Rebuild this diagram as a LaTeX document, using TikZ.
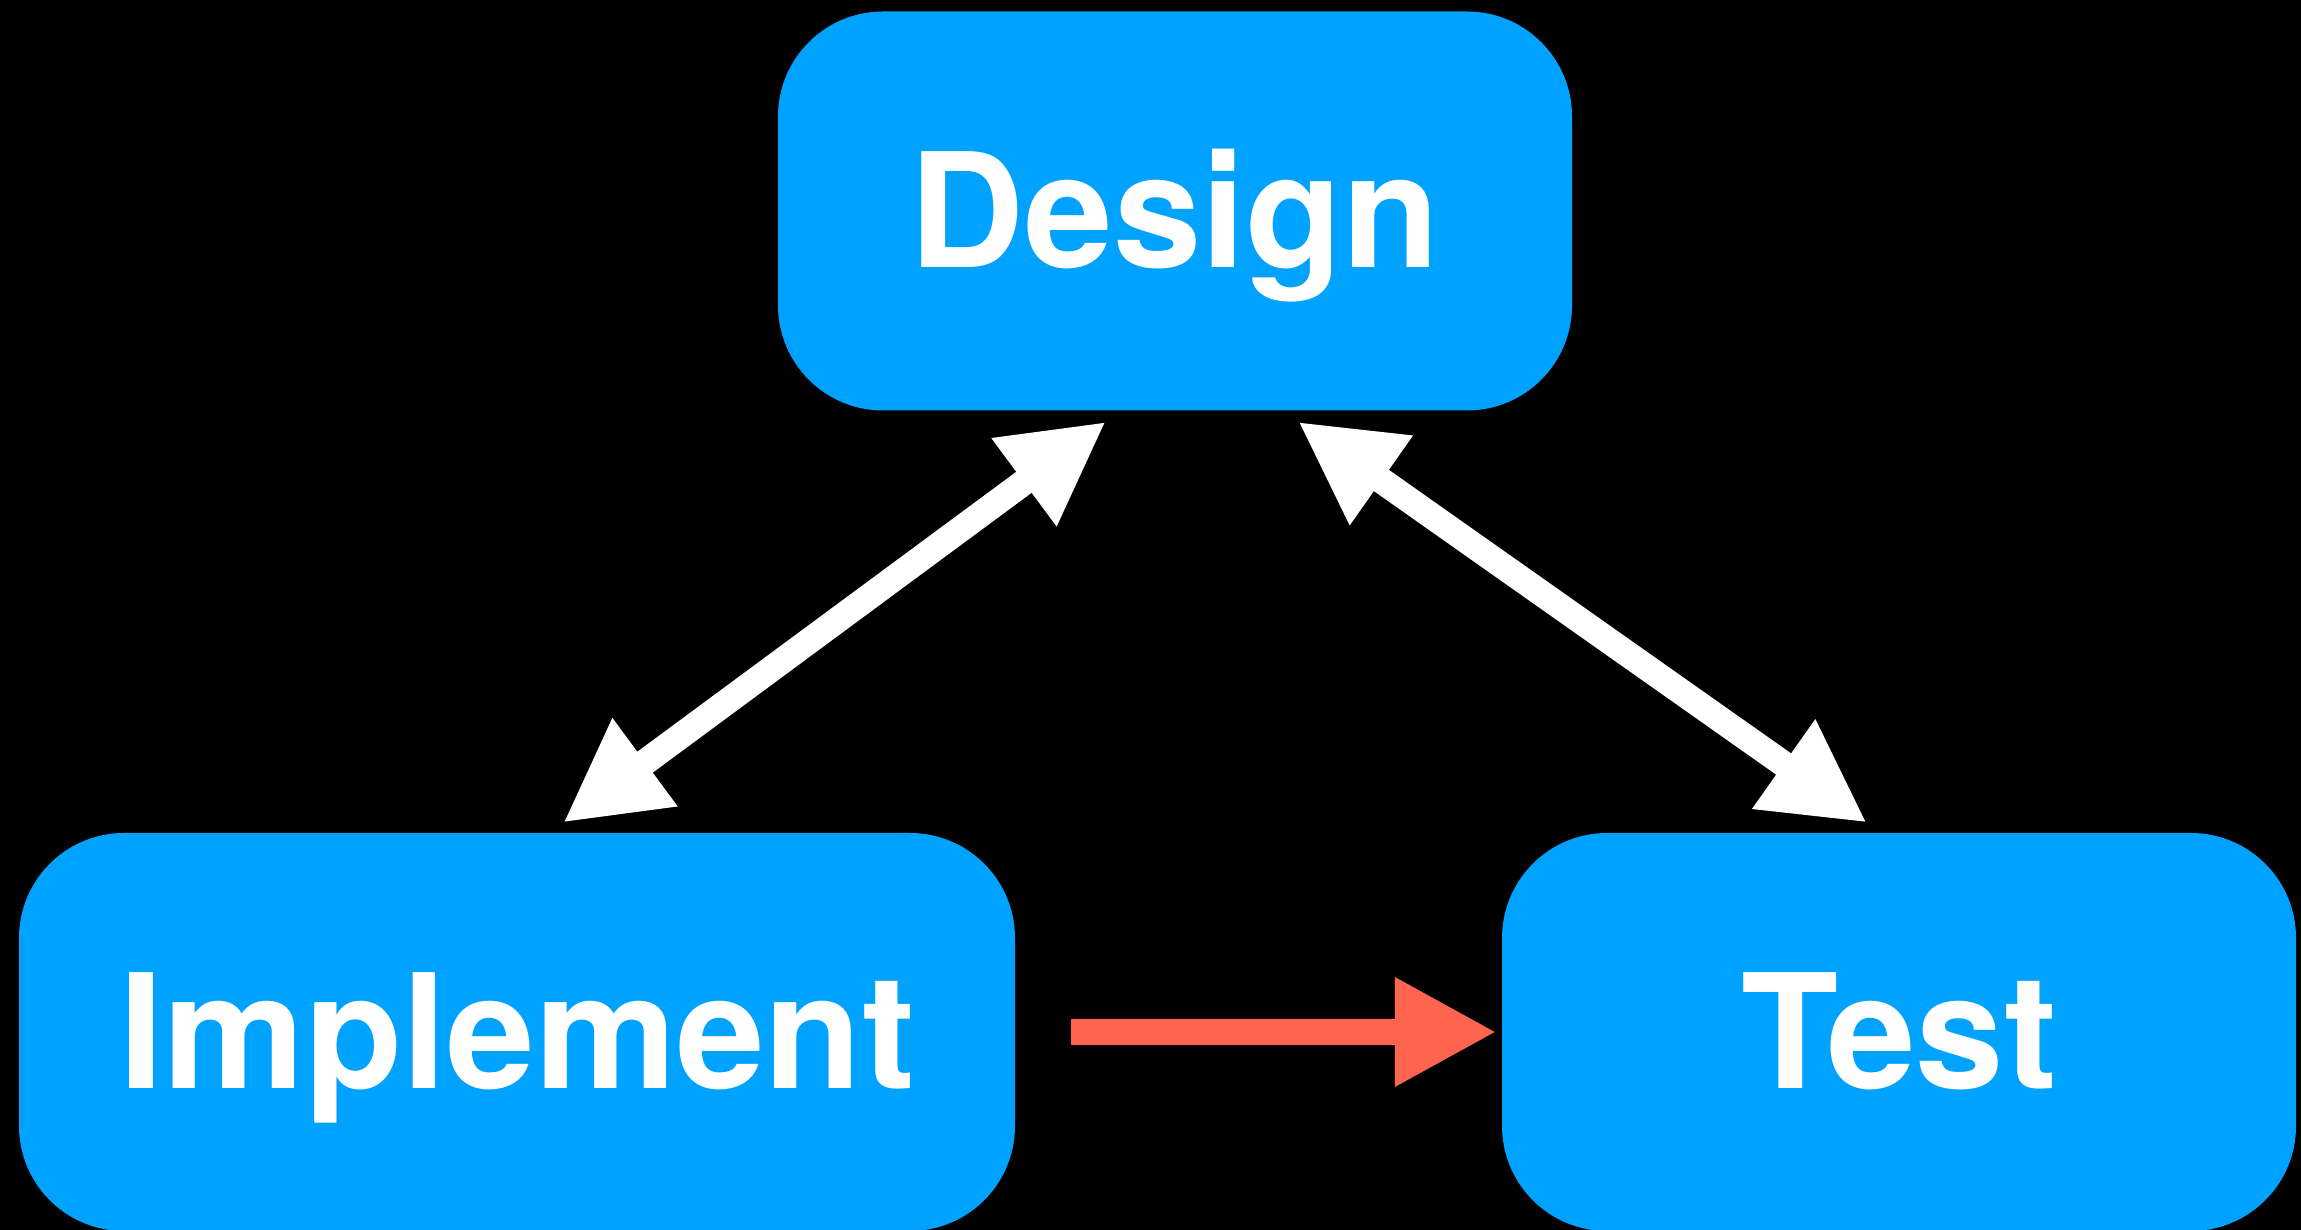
\documentclass[tikz,border=0pt]{standalone}
\usepackage{fontspec}
\setmainfont{TeX Gyre Heros}
\usetikzlibrary{arrows.meta}
\definecolor{boxblue}{HTML}{00A2FF}
\definecolor{arrred}{HTML}{FF644E}
\begin{document}
\begin{tikzpicture}[
  stage/.style={rectangle, rounded corners=105pt, fill=boxblue, text=white,
    font=\fontsize{159pt}{190pt}\selectfont\bfseries, inner sep=0pt,
    text height=114pt, text depth=0pt},
  bigtip/.tip={Triangle[length=102pt,width=102pt]},
  link/.style={white, line width=26pt, {bigtip}-{bigtip}},
  flow/.style={arrred, line width=26pt, -{bigtip}}
]
\fill[black] (0,0) rectangle (2301pt,1230pt);
\useasboundingbox (0,0) rectangle (2301pt,1230pt);
\node[stage, minimum width=794pt, minimum height=399pt] (design) at (1175pt,1019pt) {Design};
\node[stage, minimum width=996pt, minimum height=398pt] (impl) at (517pt,198pt) {Implement};
\node[stage, minimum width=794pt, minimum height=398pt] (test) at (1899pt,198pt) {Test};
\coordinate (dI) at ([shift={(-69pt,-11pt)}]design.south);
\coordinate (iD) at ([shift={(46pt,10pt)}]impl.north);
\coordinate (dT) at ([shift={(123pt,-11pt)}]design.south);
\coordinate (tD) at ([shift={(-32pt,10pt)}]test.north);
\coordinate (iT) at ([xshift=56pt]impl.east);
\coordinate (tI) at ([xshift=-5pt]test.west);
\draw[link] (iD) -- (dI);
\draw[link] (dT) -- (tD);
\draw[flow] (iT) -- (tI);
\end{tikzpicture}
\end{document}
